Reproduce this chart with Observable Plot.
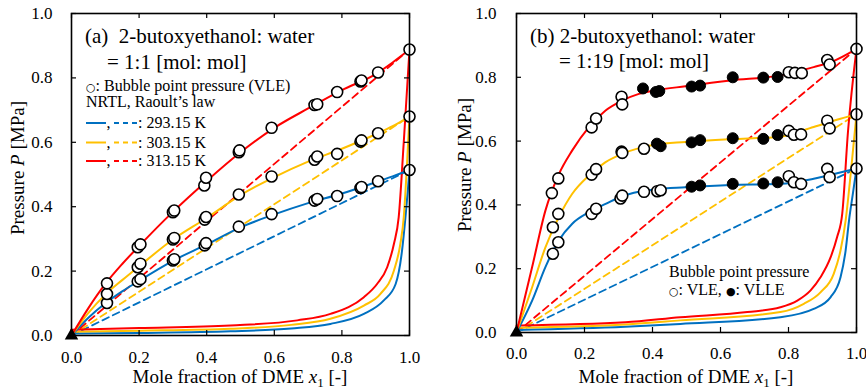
<!DOCTYPE html>
<html><head><meta charset="utf-8">
<script src="https://cdn.jsdelivr.net/npm/d3@7"></script>
<script src="https://cdn.jsdelivr.net/npm/@observablehq/plot@0.6"></script>
<style>
body{margin:0;background:#fff;}
#row{display:flex;width:866px;height:392px;}
svg text{white-space:pre;}
</style></head><body><div id="row"></div>
<script>
// ---------- data ----------
const temps = ["293.15 K", "303.15 K", "313.15 K"];
const colors = ["#0070C0", "#FFC000", "#FF0000"];
const axisTicks = [0, 0.2, 0.4, 0.6, 0.8, 1.0];

// Panel (a) 1:1 — bubble point pressure (VLE), [x1, P]
const vleA293 = [[0.105,0.101],[0.196,0.168],[0.204,0.175],[0.300,0.233],[0.304,0.237],[0.394,0.280],[0.398,0.287],[0.495,0.338],[0.592,0.377],[0.719,0.419],[0.727,0.424],[0.786,0.433],[0.855,0.458],[0.858,0.461],[0.907,0.479],[1.0,0.514]];
const vleA303 = [[0.105,0.129],[0.196,0.212],[0.204,0.223],[0.300,0.298],[0.304,0.303],[0.394,0.360],[0.398,0.368],[0.495,0.438],[0.592,0.494],[0.719,0.546],[0.727,0.556],[0.786,0.564],[0.855,0.602],[0.858,0.606],[0.907,0.628],[1.0,0.680]];
const vleA313 = [[0.105,0.162],[0.196,0.274],[0.204,0.283],[0.300,0.383],[0.304,0.388],[0.393,0.466],[0.398,0.490],[0.495,0.569],[0.497,0.575],[0.592,0.645],[0.719,0.716],[0.727,0.718],[0.786,0.756],[0.855,0.789],[0.858,0.792],[0.907,0.817],[1.0,0.888]];
// NRTL bubble curves
const nrtlA293 = [[0,0],[0.05,0.055],[0.1,0.1],[0.15,0.137],[0.2,0.17],[0.3,0.232],[0.4,0.283],[0.5,0.336],[0.6,0.376],[0.7,0.411],[0.8,0.441],[0.9,0.476],[0.95,0.494],[1.0,0.514]];
const nrtlA303 = [[0,0],[0.05,0.07],[0.1,0.127],[0.15,0.172],[0.2,0.215],[0.3,0.298],[0.4,0.365],[0.5,0.436],[0.6,0.492],[0.7,0.54],[0.8,0.58],[0.9,0.625],[0.95,0.65],[1.0,0.68]];
const nrtlA313 = [[0,0],[0.05,0.085],[0.1,0.16],[0.15,0.222],[0.2,0.278],[0.3,0.384],[0.4,0.48],[0.5,0.569],[0.6,0.645],[0.7,0.705],[0.8,0.762],[0.9,0.812],[0.95,0.848],[1.0,0.888]];
// NRTL dew curves
const dewA293 = [[0,0.006],[0.2,0.008],[0.47,0.013],[0.65,0.022],[0.766,0.036],[0.865,0.067],[0.924,0.109],[0.959,0.16],[0.978,0.264],[0.988,0.367],[0.995,0.45],[1.0,0.514]];
const dewA303 = [[0,0.012],[0.2,0.015],[0.47,0.021],[0.65,0.033],[0.766,0.052],[0.865,0.093],[0.914,0.129],[0.954,0.202],[0.973,0.285],[0.983,0.367],[0.992,0.52],[1.0,0.68]];
const dewA313 = [[0,0.018],[0.2,0.023],[0.47,0.031],[0.668,0.047],[0.766,0.067],[0.865,0.119],[0.904,0.16],[0.934,0.212],[0.954,0.285],[0.968,0.367],[0.983,0.6],[1.0,0.888]];
// Raoult's law
const raoultA293 = [[0,0],[1,0.514]];
const raoultA303 = [[0,0],[1,0.680]];
const raoultA313 = [[0,0],[1,0.888]];

// Panel (b) 1:19
const vleB293 = [[0.107,0.247],[0.123,0.283],[0.221,0.372],[0.234,0.388],[0.306,0.420],[0.311,0.429],[0.375,0.441],[0.414,0.443],[0.424,0.446],[0.801,0.490],[0.816,0.471],[0.837,0.466],[0.914,0.513],[0.921,0.487],[1.0,0.514]];
const vleB303 = [[0.107,0.330],[0.123,0.372],[0.221,0.495],[0.234,0.512],[0.309,0.567],[0.311,0.563],[0.375,0.576],[0.801,0.632],[0.816,0.620],[0.837,0.621],[0.914,0.664],[0.921,0.640],[1.0,0.684]];
const vleB313 = [[0.104,0.437],[0.123,0.483],[0.221,0.643],[0.234,0.671],[0.309,0.739],[0.311,0.715],[0.801,0.816],[0.819,0.814],[0.839,0.813],[0.914,0.854],[0.921,0.840],[1.0,0.889]];
const vlleB293 = [[0.515,0.457],[0.540,0.461],[0.636,0.466],[0.726,0.467],[0.768,0.471]];
const vlleB303 = [[0.413,0.592],[0.424,0.584],[0.515,0.596],[0.540,0.603],[0.636,0.609],[0.726,0.607],[0.768,0.619]];
const vlleB313 = [[0.372,0.765],[0.410,0.754],[0.420,0.757],[0.515,0.771],[0.540,0.774],[0.636,0.800],[0.726,0.799],[0.768,0.801]];
const nrtlB293 = [[0,0],[0.046,0.1],[0.085,0.205],[0.124,0.288],[0.164,0.341],[0.213,0.377],[0.262,0.403],[0.311,0.427],[0.36,0.441],[0.409,0.449],[0.497,0.455],[0.629,0.462],[0.776,0.466],[0.874,0.482],[0.943,0.499],[1.0,0.514]];
const nrtlB303 = [[0,0],[0.046,0.142],[0.085,0.267],[0.124,0.361],[0.164,0.435],[0.213,0.492],[0.262,0.534],[0.311,0.560],[0.36,0.578],[0.409,0.589],[0.497,0.597],[0.629,0.606],[0.776,0.614],[0.874,0.644],[0.953,0.67],[1.0,0.684]];
const nrtlB313 = [[0,0],[0.046,0.205],[0.085,0.382],[0.124,0.495],[0.164,0.571],[0.213,0.644],[0.262,0.696],[0.311,0.727],[0.36,0.748],[0.409,0.759],[0.497,0.772],[0.629,0.790],[0.776,0.806],[0.874,0.832],[0.924,0.847],[1.0,0.889]];
const dewB293 = [[0,0.008],[0.32,0.018],[0.482,0.027],[0.776,0.048],[0.874,0.074],[0.924,0.111],[0.953,0.173],[0.968,0.257],[0.978,0.351],[0.99,0.44],[1.0,0.514]];
const dewB303 = [[0,0.015],[0.32,0.025],[0.482,0.038],[0.776,0.064],[0.845,0.09],[0.894,0.126],[0.933,0.184],[0.953,0.257],[0.968,0.351],[0.985,0.52],[1.0,0.684]];
const dewB313 = [[0,0.022],[0.32,0.032],[0.482,0.048],[0.679,0.064],[0.776,0.079],[0.826,0.1],[0.865,0.132],[0.894,0.173],[0.924,0.236],[0.943,0.299],[0.958,0.372],[0.975,0.63],[1.0,0.889]];
const raoultB293 = [[0,0],[1,0.514]];
const raoultB303 = [[0,0],[1,0.684]];
const raoultB313 = [[0,0],[1,0.889]];
const origin = [[0,0]];

// ---------- drawing ----------
const FONT = '"Liberation Serif","Times New Roman",Times,serif';
const rows = (pairs) => pairs.map(([x, p]) => ({x, p}));

function addText(svg, x, y, parts, opts = {}) {
  const t = d3.select(svg).append("text")
    .attr("x", x).attr("y", y)
    .style("font-family", FONT)
    .attr("font-size", opts.size || 16)
    .attr("fill", "black")
    .attr("text-anchor", opts.anchor || "start");
  if (opts.rotate) t.attr("transform", `rotate(${opts.rotate},${x},${y})`);
  for (const p of (Array.isArray(parts) ? parts : [parts])) {
    const q = typeof p === "string" ? {t: p} : p;
    const s = t.append("tspan").text(q.t);
    if (q.italic) s.attr("font-style", "italic");
    if (q.size) s.attr("font-size", q.size);
    if (q.family) s.style("font-family", q.family);
    if (q.dy) s.attr("dy", q.dy);
  }
  return t;
}
function addLine(svg, x1, x2, y, color, dash) {
  const l = d3.select(svg).append("line")
    .attr("x1", x1).attr("x2", x2).attr("y1", y).attr("y2", y)
    .attr("stroke", color).attr("stroke-width", 2);
  if (dash) l.attr("stroke-dasharray", dash);
}

function panel(cfg) {
  const W = 433, H = 392;
  const iw = W - cfg.ml - cfg.mr, ih = H - cfg.mt - cfg.mb;
  const tl = 5;
  const marks = [];
  cfg.raoult.forEach((d, i) => marks.push(Plot.line(rows(d), {x: "x", y: "p", stroke: colors[i], strokeWidth: 1.8, strokeDasharray: "7,4.5"})));
  cfg.dew.forEach((d, i) => marks.push(Plot.line(rows(d), {x: "x", y: "p", stroke: colors[i], strokeWidth: 2, curve: "monotone-x"})));
  cfg.nrtl.forEach((d, i) => marks.push(Plot.line(rows(d), {x: "x", y: "p", stroke: colors[i], strokeWidth: 2, curve: "monotone-x"})));
  cfg.vle.forEach((d) => marks.push(Plot.dot(rows(d), {x: "x", y: "p", r: 5.5, fill: "white", stroke: "black", strokeWidth: 1.6})));
  (cfg.vlle || []).forEach((d) => marks.push(Plot.dot(rows(d), {x: "x", y: "p", r: 5.5, fill: "black", stroke: "black", strokeWidth: 1})));
  marks.push(Plot.dot(rows(origin), {x: "x", y: "p", symbol: "triangle", r: 5, fill: "black"}));
  // inward ticks on all four sides
  marks.push(Plot.ruleX(axisTicks, {x: d => d, y1: 0, y2: tl / ih, stroke: "black", strokeWidth: 1.2}));
  marks.push(Plot.ruleX(axisTicks, {x: d => d, y1: 1, y2: 1 - tl / ih, stroke: "black", strokeWidth: 1.2}));
  marks.push(Plot.ruleY(axisTicks, {y: d => d, x1: 0, x2: tl / iw, stroke: "black", strokeWidth: 1.2}));
  marks.push(Plot.ruleY(axisTicks, {y: d => d, x1: 1, x2: 1 - tl / iw, stroke: "black", strokeWidth: 1.2}));
  marks.push(Plot.frame({stroke: "black", strokeWidth: 1.6}));
  marks.push(Plot.axisX(axisTicks, {tickSize: 0, tickPadding: cfg.xpad, tickFormat: d3.format(".1f"), fontSize: 17, fontFamily: FONT, label: null}));
  marks.push(Plot.axisY(axisTicks, {tickSize: 0, tickPadding: cfg.ypad, tickFormat: d3.format(".1f"), fontSize: 17, fontFamily: FONT, label: null}));
  const svg = Plot.plot({
    width: W, height: H,
    marginLeft: cfg.ml, marginRight: cfg.mr, marginTop: cfg.mt, marginBottom: cfg.mb,
    x: {domain: [0, 1]}, y: {domain: [0, 1]},
    style: {fontFamily: FONT, color: "black", background: "white", overflow: "visible"},
    marks
  });
  // axis labels
  addText(svg, cfg.xlab[0], cfg.xlab[1], ["Mole fraction of DME ", {t: "x", italic: true}, {t: "1", size: 13, dy: 4}, {t: " [-]", dy: -4}], {size: 19, anchor: "middle"});
  addText(svg, cfg.ylab[0], cfg.ylab[1], ["Pressure ", {t: "P", italic: true}, " [MPa]"], {size: 19, anchor: "middle", rotate: -90});
  cfg.extra(svg);
  return svg;
}

const row = document.getElementById("row");

row.appendChild(panel({
  ml: 71, mr: 24, mt: 13, mb: 57, xpad: 15, ypad: 19,
  raoult: [raoultA293, raoultA303, raoultA313],
  dew: [dewA293, dewA303, dewA313],
  nrtl: [nrtlA293, nrtlA303, nrtlA313],
  vle: [vleA293, vleA303, vleA313],
  xlab: [240, 383], ylab: [23.5, 168],
  extra(svg) {
    addText(svg, 85, 43, "(a)  2-butoxyethanol: water", {size: 21});
    addText(svg, 107, 68.5, "= 1:1 [mol: mol]", {size: 21});
    addText(svg, 86, 91, [{t: "○", size: 11, family: "DejaVu Sans"}, ": Bubble point pressure (VLE)"], {size: 16});
    addText(svg, 86, 107, "NRTL, Raoult’s law", {size: 16});
    const base = [128, 147.5, 166];
    temps.forEach((t, i) => {
      addLine(svg, 86, 106, base[i] - 5, colors[i]);
      addText(svg, 106.5, base[i], ",", {size: 16});
      addLine(svg, 114, 137, base[i] - 5, colors[i], "5,4");
      addText(svg, 138, base[i], ": " + t, {size: 16});
    });
  }
}));

row.appendChild(panel({
  ml: 83, mr: 10, mt: 13, mb: 60, xpad: 14, ypad: 20,
  raoult: [raoultB293, raoultB303, raoultB313],
  dew: [dewB293, dewB303, dewB313],
  nrtl: [nrtlB293, nrtlB303, nrtlB313],
  vle: [vleB293, vleB303, vleB313],
  vlle: [vlleB293, vlleB303, vlleB313],
  xlab: [253, 383], ylab: [37.5, 165],
  extra(svg) {
    addText(svg, 97, 42.5, "(b) 2-butoxyethanol: water", {size: 21});
    addText(svg, 126, 67.5, "= 1:19 [mol: mol]", {size: 21});
    addText(svg, 236, 277, "Bubble point pressure", {size: 16});
    addText(svg, 236, 295, [{t: "○", size: 11, family: "DejaVu Sans"}, ": VLE, ", {t: "●", size: 11, family: "DejaVu Sans"}, ": VLLE"], {size: 16});
  }
}));
</script></body></html>
